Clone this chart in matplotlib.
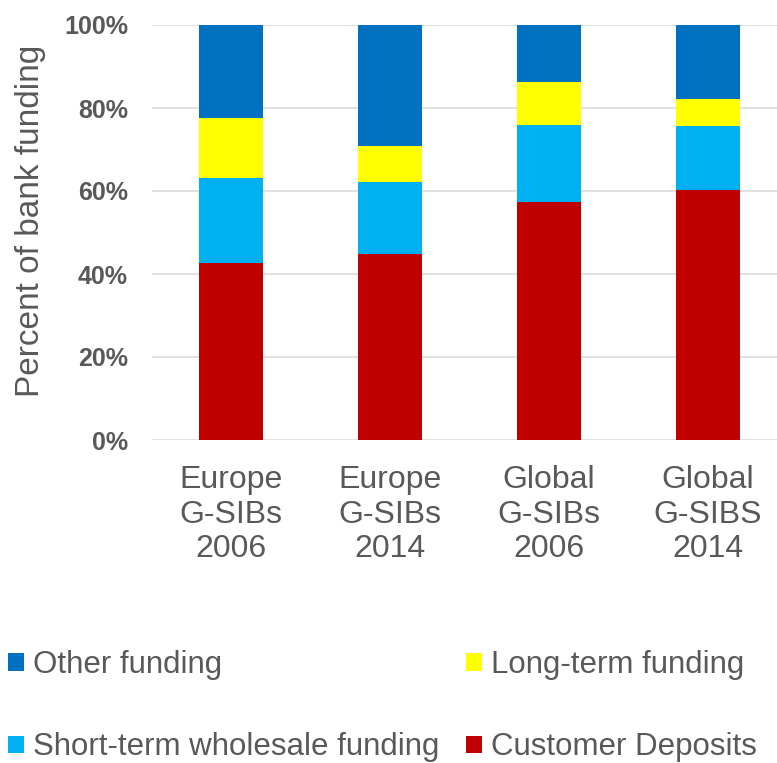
import matplotlib.pyplot as plt
import numpy as np

plt.rcParams['font.family'] = ['Liberation Sans', 'DejaVu Sans']

# data (percent of bank funding)
groups = ['Europe\nG-SIBs\n2006', 'Europe\nG-SIBs\n2014', 'Global\nG-SIBs\n2006', 'Global\nG-SIBS\n2014']
customer_deposits = [42.7, 44.7, 57.4, 60.3]
short_term = [20.5, 17.5, 18.6, 15.4]
long_term = [14.3, 8.7, 10.2, 6.4]
other = [22.5, 29.1, 13.8, 17.9]

series = ['Customer Deposits', 'Short-term wholesale funding', 'Long-term funding', 'Other funding']
colors = ['#C00000', '#00B0F0', '#FFFF00', '#0070C0']
text_color = '#595959'

fig = plt.figure(figsize=(7.77, 7.63), dpi=100)
ax = fig.add_axes([151.5 / 777, 323 / 763, 636 / 777, 415 / 763])

x = np.arange(len(groups))
bottom = np.zeros(len(groups))
bars = {}
for name, vals, c in zip(series, [customer_deposits, short_term, long_term, other], colors):
    bars[name] = ax.bar(x, vals, 0.4, bottom=bottom, color=c, zorder=3, label=name)
    bottom += np.array(vals)

ax.set_xlim(-0.5, 3.5)
ax.set_ylim(0, 100)
ax.set_yticks([0, 20, 40, 60, 80, 100])
ax.set_yticklabels(['0%', '20%', '40%', '60%', '80%', '100%'], fontsize=18, fontweight='bold', color=text_color)
ax.set_xticks(x)
ax.set_xticklabels(groups, fontsize=23, color=text_color, linespacing=1.2)
ax.tick_params(axis='both', length=0)
ax.tick_params(axis='y', pad=17)
ax.tick_params(axis='x', pad=18)
ax.grid(axis='y', color='#d9d9d9', linewidth=1.1, zorder=0)
for s in ax.spines.values():
    s.set_visible(False)

fig.text(31 / 777, 1 - 221 / 763, 'Percent of bank funding', rotation=90, fontsize=24,
         color=text_color, ha='center', va='center')

# legend: row 1 Other / Long-term, row 2 Short-term / Customer
order = ['Other funding', 'Short-term wholesale funding', 'Long-term funding', 'Customer Deposits']
leg = fig.legend([bars[n] for n in order], order, loc='upper left', bbox_to_anchor=(8 / 777, 1 - 650 / 763),
                 ncol=2, frameon=False, fontsize=22.5, borderpad=0, borderaxespad=0,
                 handlelength=0.5, handleheight=0.5, handletextpad=0.3,
                 columnspacing=0.85, labelspacing=1.68, labelcolor=text_color)

fig.savefig('out.png', dpi=100)
